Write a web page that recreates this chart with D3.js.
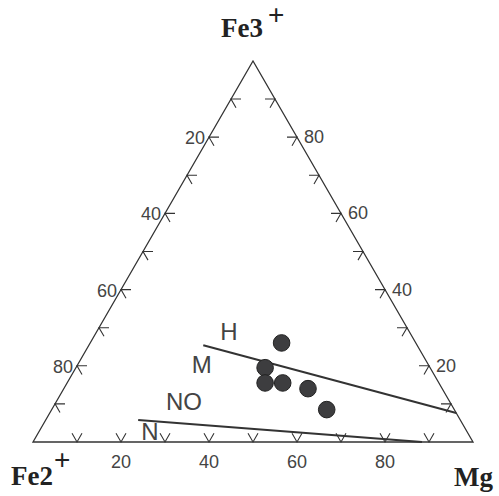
<!DOCTYPE html>
<html>
<head>
<meta charset="utf-8">
<script src="https://cdn.jsdelivr.net/npm/d3@7"></script>
<style>
  body { margin: 0; background: #fff; }
  text { font-family: "Liberation Sans", Arial, sans-serif; }
</style>
</head>
<body>
<script>
// ternary data, each as [Fe2, Mg, Fe3] in percent
var samples = [
  [30.5, 43.5, 26],
  [37.5, 43, 19.5],
  [39.5, 45, 15.5],
  [35.5, 49, 15.5],
  [30.5, 55.5, 14],
  [29, 62.5, 8.5]
];
var lineHM = [[48.6, 26, 25.4], [0, 92.4, 7.6]];
var lineN = [[73.2, 21, 5.8], [11.6, 88.4, 0]];
var tickVals = [10, 20, 30, 40, 50, 60, 70, 80, 90];
var labelVals = [20, 40, 60, 80];
var zoneNames = ["H", "M", "NO", "N"];
var zoneAt = [[42.1, 31.1, 26.8], [52.6, 29.3, 18.1], [61.5, 30.1, 8.4], [73.2, 26.3, 0.5]];

var W = 499, H = 496;
var svg = d3.select("body").append("svg")
  .attr("width", W)
  .attr("height", H);

// triangle geometry
var side = 440;
var x0 = 33, y0 = 442;
var hgt = side * Math.sqrt(3) / 2;

var xs = d3.scaleLinear().domain([0, 1]).range([x0, x0 + side]);
var ys = d3.scaleLinear().domain([0, 1]).range([y0, y0 - hgt]);

function proj(d) {
  var t = d[0] + d[1] + d[2];
  var mg = d[1] / t, fe3 = d[2] / t;
  return [xs(mg + fe3 / 2), ys(fe3)];
}

var A = proj([100, 0, 0]), B = proj([0, 100, 0]), C = proj([0, 0, 100]);

svg.append("path")
  .attr("d", "M" + A + "L" + B + "L" + C + "Z")
  .attr("fill", "none")
  .attr("stroke", "#333")
  .attr("stroke-width", 1.3);

// ticks: two short arms along grid directions
var arm = 10;
function arms(p, a1, a2) {
  var r1 = a1 * Math.PI / 180, r2 = a2 * Math.PI / 180;
  return "M" + [p[0] + arm * Math.cos(r1), p[1] - arm * Math.sin(r1)] +
    "L" + p + "L" + [p[0] + arm * Math.cos(r2), p[1] - arm * Math.sin(r2)];
}

var tg = svg.append("g").attr("fill", "none").attr("stroke", "#333").attr("stroke-width", 1.1);
tickVals.forEach(function(v) {
  // bottom edge (Mg)
  tg.append("path").attr("d", arms(proj([100 - v, v, 0]), 60, 120));
  // left edge (Fe2)
  tg.append("path").attr("d", arms(proj([v, 0, 100 - v]), 0, -60));
  // right edge (Fe3)
  tg.append("path").attr("d", arms(proj([0, 100 - v, v]), 180, 240));
});

var lab = svg.append("g").attr("fill", "#444").attr("font-size", 18);
labelVals.forEach(function(v) {
  var p = proj([100 - v, v, 0]);
  lab.append("text").attr("x", p[0]).attr("y", p[1] + 26).attr("text-anchor", "middle").text(v);
  p = proj([v, 0, 100 - v]);
  lab.append("text").attr("x", p[0] - 4).attr("y", p[1] + 7).attr("text-anchor", "end").text(v);
  p = proj([0, 100 - v, v]);
  lab.append("text").attr("x", p[0] + 7).attr("y", p[1] + 6).attr("text-anchor", "start").text(v);
});

// boundary lines
[lineHM, lineN].forEach(function(l) {
  svg.append("path")
    .attr("d", d3.line()(l.map(proj)))
    .attr("stroke", "#333")
    .attr("stroke-width", 2)
    .attr("fill", "none");
});

// zone names
zoneNames.forEach(function(n, i) {
  var p = proj(zoneAt[i]);
  svg.append("text")
    .attr("x", p[0]).attr("y", p[1])
    .attr("text-anchor", "middle")
    .attr("font-size", 24)
    .attr("fill", "#444")
    .text(n);
});

// samples
svg.selectAll("circle.s")
  .data(samples)
  .enter().append("circle")
  .attr("class", "s")
  .attr("cx", function(d) { return proj(d)[0]; })
  .attr("cy", function(d) { return proj(d)[1]; })
  .attr("r", 8.3)
  .attr("fill", "#3d3d3f")
  .attr("stroke", "#222")
  .attr("stroke-width", 1);

// corner names
function corner(x, y, name) {
  svg.append("text")
    .attr("x", x).attr("y", y)
    .style("font-family", "'Liberation Serif', 'Times New Roman', serif")
    .attr("font-weight", "bold")
    .attr("font-size", 27)
    .attr("fill", "#222")
    .text(name);
}
function plus(x, y) {
  svg.append("text")
    .attr("x", x).attr("y", y)
    .style("font-family", "'Liberation Sans', Arial, sans-serif")
    .attr("font-size", 28)
    .attr("fill", "#222")
    .text("+");
}
corner(221, 37, "Fe3"); plus(268, 24);
corner(11, 485, "Fe2"); plus(54, 469);
corner(454, 486, "Mg");
</script>
</body>
</html>
